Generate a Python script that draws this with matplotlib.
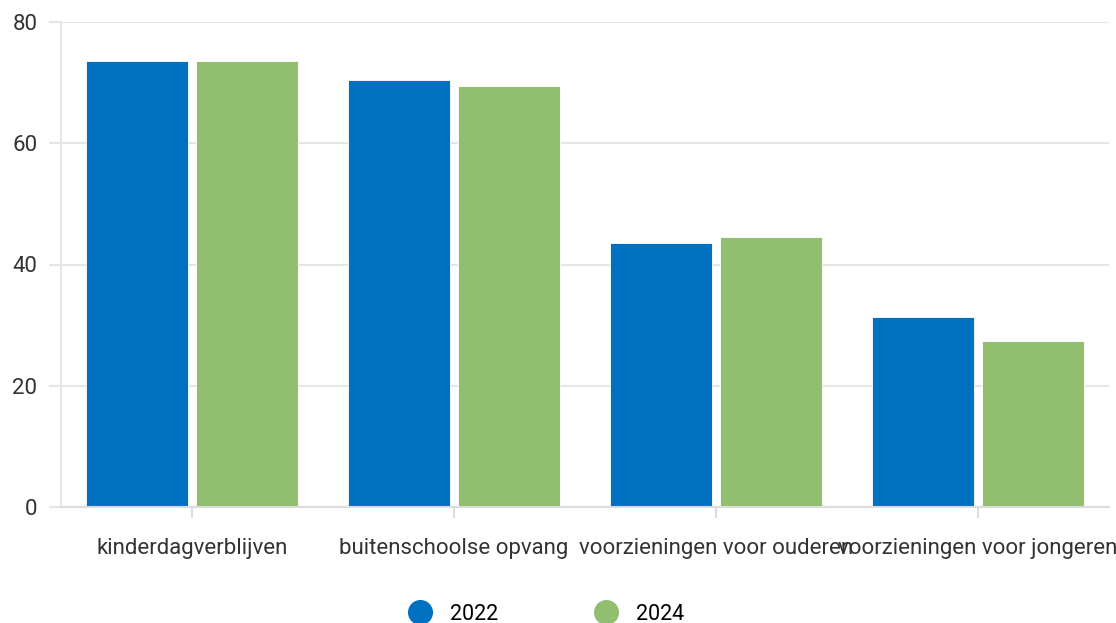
import matplotlib
matplotlib.use("Agg")
import matplotlib.pyplot as plt
from matplotlib.lines import Line2D
import numpy as np

plt.rcParams["font.family"] = ["Roboto", "DejaVu Sans"]

CATEGORIES = ["kinderdagverblijven", "buitenschoolse opvang",
              "voorzieningen voor ouderen", "voorzieningen voor jongeren"]
YEARS = ["2022", "2024"]
VALUES_2022 = [73.5, 70.5, 43.5, 31.3]
VALUES_2024 = [73.5, 69.5, 44.5, 27.3]
COLORS = ["#0070c0", "#92bf6f"]
GRID = "#e6e6e6"

fig = plt.figure(figsize=(11.16, 6.23), dpi=100)
ax = fig.add_axes([61 / 1116, 116 / 623, 1048 / 1116, 485 / 623])

x = np.arange(len(CATEGORIES))
width = 0.39
offset = 0.21
for vals, col, off in zip([VALUES_2022, VALUES_2024], COLORS, [-offset, offset]):
    ax.bar(x + off, vals, width, color=col, edgecolor="white", linewidth=0.6, zorder=3)

ax.set_xlim(-0.5, len(CATEGORIES) - 0.5)
ax.set_ylim(0, 80)
ax.set_yticks([0, 20, 40, 60, 80])
ax.grid(axis="y", color=GRID, linewidth=1.5, zorder=0)
for side in ["top", "right"]:
    ax.spines[side].set_visible(False)
ax.spines["left"].set_color(GRID)
ax.spines["left"].set_linewidth(1.5)
ax.spines["bottom"].set_color("#dcdcdc")
ax.spines["bottom"].set_linewidth(1.5)
ax.spines["bottom"].set_zorder(4)

ax.tick_params(axis="y", length=9, width=1.5, color=GRID, pad=8,
               labelsize=16, labelcolor="#333333")
ax.set_xticks(x)
ax.set_xticklabels(CATEGORIES)
ax.tick_params(axis="x", length=8, width=1.5, color="#dcdcdc", pad=14,
               labelsize=16, labelcolor="#333333")

handles = [Line2D([], [], marker="o", linestyle="", markersize=17,
                  markerfacecolor=c, markeredgecolor=c) for c in COLORS]
fig.legend(handles, YEARS, loc="lower center", bbox_to_anchor=(0.485, -0.034),
           ncol=2, frameon=False, fontsize=15.5, handletextpad=0.4,
           columnspacing=4.0)

fig.savefig("out.png", dpi=100)
